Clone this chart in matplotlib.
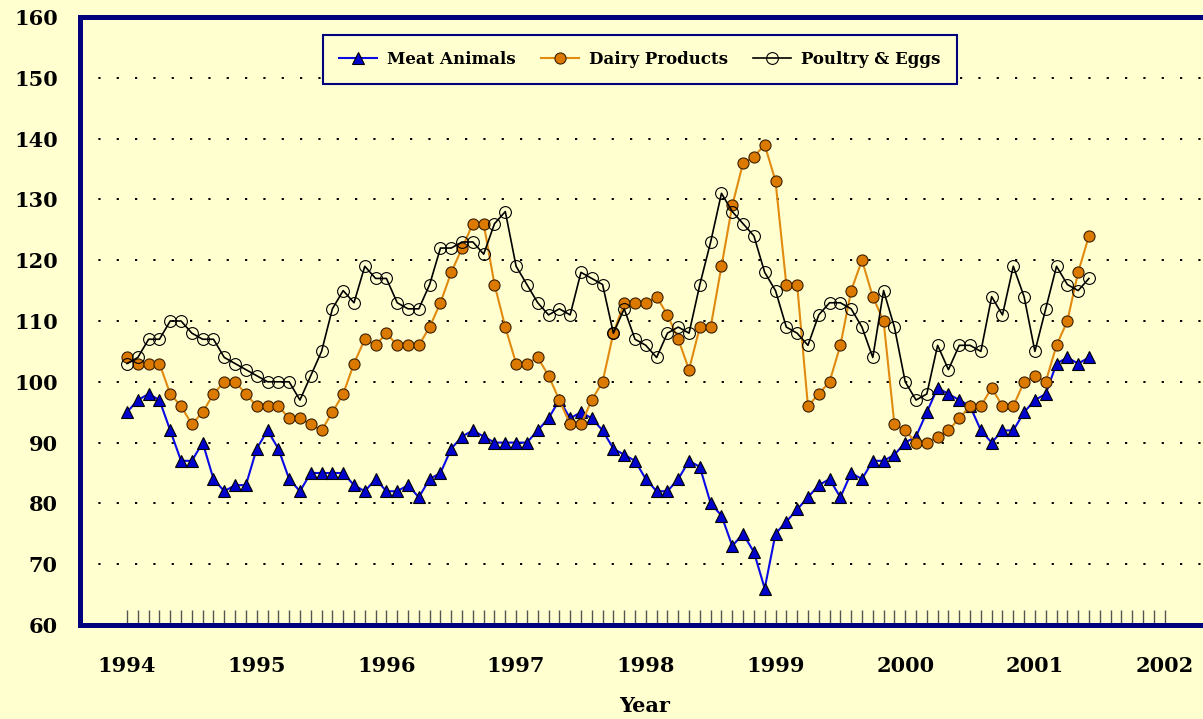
import numpy as np
import matplotlib
matplotlib.use("Agg")
import matplotlib.pyplot as plt

plt.rcParams['font.family'] = ['DejaVu Serif']
plt.rcParams['lines.scale_dashes'] = False

# monthly index values, Jan 1994 .. Jun 2001
meat = [95, 97, 98, 97, 92, 87, 87, 90, 84, 82, 83, 83,
        89, 92, 89, 84, 82, 85, 85, 85, 85, 83, 82, 84,
        82, 82, 83, 81, 84, 85, 89, 91, 92, 91, 90, 90,
        90, 90, 92, 94, 97, 94, 95, 94, 92, 89, 88, 87,
        84, 82, 82, 84, 87, 86, 80, 78, 73, 75, 72, 66,
        75, 77, 79, 81, 83, 84, 81, 85, 84, 87, 87, 88,
        90, 91, 95, 99, 98, 97, 96, 92, 90, 92, 92, 95,
        97, 98, 103, 104, 103, 104]
dairy = [104, 103, 103, 103, 98, 96, 93, 95, 98, 100, 100, 98,
         96, 96, 96, 94, 94, 93, 92, 95, 98, 103, 107, 106,
         108, 106, 106, 106, 109, 113, 118, 122, 126, 126, 116, 109,
         103, 103, 104, 101, 97, 93, 93, 97, 100, 108, 113, 113,
         113, 114, 111, 107, 102, 109, 109, 119, 129, 136, 137, 139,
         133, 116, 116, 96, 98, 100, 106, 115, 120, 114, 110, 93,
         92, 90, 90, 91, 92, 94, 96, 96, 99, 96, 96, 100,
         101, 100, 106, 110, 118, 124]
poultry = [103, 104, 107, 107, 110, 110, 108, 107, 107, 104, 103, 102,
           101, 100, 100, 100, 97, 101, 105, 112, 115, 113, 119, 117,
           117, 113, 112, 112, 116, 122, 122, 123, 123, 121, 126, 128,
           119, 116, 113, 111, 112, 111, 118, 117, 116, 108, 112, 107,
           106, 104, 108, 109, 108, 116, 123, 131, 128, 126, 124, 118,
           115, 109, 108, 106, 111, 113, 113, 112, 109, 104, 115, 109,
           100, 97, 98, 106, 102, 106, 106, 105, 114, 111, 119, 114,
           105, 112, 119, 116, 115, 117]
years = list(range(1994, 2003))

t = 1994 + np.arange(len(meat)) / 12.0

bg = '#FFFFD0'
navy = '#00007F'

fig = plt.figure(figsize=(12.03, 7.19), dpi=100, facecolor=bg)
ax = fig.add_axes([80/1203, 94/719, 1130/1203, 608/719], facecolor=bg)

ax.plot(t, meat, color='#0A0AE6', lw=1.5, marker='^', ms=8.5,
        mfc='#0000CC', mec='black', mew=0.8, label='Meat Animals')
ax.plot(t, dairy, color='#E08A10', lw=1.5, marker='o', ms=8,
        mfc='#DC7A00', mec='#3A2000', mew=0.8, label='Dairy Products')
ax.plot(t, poultry, color='black', lw=1.2, marker='o', ms=8.5,
        mfc='none', mec='black', mew=0.8, label='Poultry & Eggs')

ax.set_xlim(1994 - 4.35/12, 1994 + 100.2/12)
ax.set_ylim(60, 160)
ax.set_yticks(range(60, 161, 10))
ax.set_xticks(years)
ax.set_xticks(1994 + np.arange(0, 97) / 12.0, minor=True)

ax.yaxis.grid(True, color='black', lw=1.4, ls=(0, (1.6, 11.6)))
ax.set_axisbelow(True)

for s in ['left', 'bottom', 'top']:
    ax.spines[s].set_color(navy)
    ax.spines[s].set_linewidth(3.6)
ax.spines['right'].set_visible(False)

ax.tick_params(axis='y', length=0, pad=16, labelsize=15)
ax.tick_params(axis='x', which='both', direction='in', length=11,
               width=1, color='#555555', pad=22, labelsize=15)
for lab in ax.get_xticklabels() + ax.get_yticklabels():
    lab.set_fontweight('bold')

ax.set_xlabel('Year', fontsize=15, fontweight='bold', labelpad=15)

leg = ax.legend(loc='upper left', bbox_to_anchor=(243/1130, 590/608), ncol=3,
                frameon=True, fancybox=False, handlelength=2.3,
                handletextpad=0.6, columnspacing=1.5, borderpad=0.95,
                borderaxespad=0, prop={'weight': 'bold', 'size': 12})
leg.get_frame().set_facecolor(bg)
leg.get_frame().set_edgecolor(navy)
leg.get_frame().set_linewidth(1.5)
leg.get_frame().set_alpha(1)

fig.savefig('out.png', dpi=100, facecolor=bg)
